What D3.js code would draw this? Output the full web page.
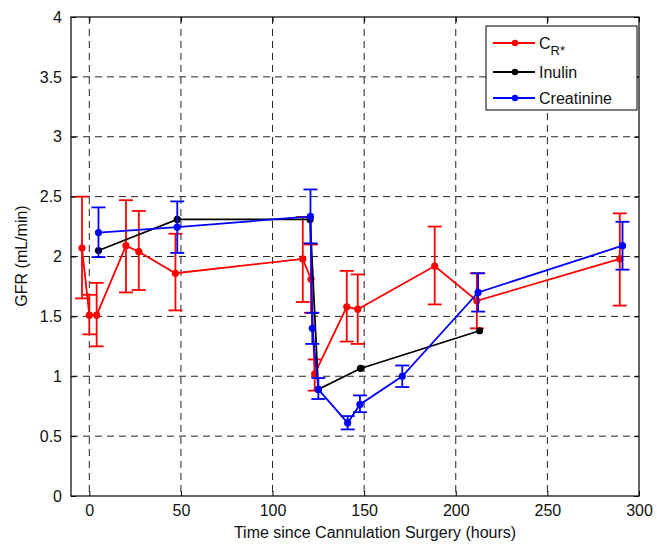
<!DOCTYPE html>
<html>
<head>
<meta charset="utf-8">
<script src="https://cdn.jsdelivr.net/npm/d3@7"></script>
<style>
  body { margin: 0; background: #fff; }
  svg { display: block; font-family: "Liberation Sans", Arial, sans-serif; }
</style>
</head>
<body>
<div id="chart"></div>
<script>
// values
const crTime  = [-4, 0, 4, 20, 27, 47, 116.5, 121, 123, 140.5, 146.5, 188.5, 211.5, 289.5];
const crValue = [2.07, 1.51, 1.51, 2.09, 2.04, 1.86, 1.98, 1.81, 1.02, 1.58, 1.56, 1.92, 1.63, 1.98];
const crLow   = [1.65, 1.35, 1.25, 1.70, 1.72, 1.55, 1.62, 1.53, 0.88, 1.29, 1.27, 1.60, 1.40, 1.59];
const crHigh  = [2.50, 1.68, 1.78, 2.47, 2.38, 2.19, 2.33, 2.10, 1.14, 1.88, 1.85, 2.25, 1.86, 2.36];

const inTime  = [5, 48, 120.5, 125, 148, 213];
const inValue = [2.05, 2.31, 2.31, 0.89, 1.065, 1.38];

const crnTime  = [5, 48, 120.7, 121.7, 125, 141, 147.7, 170.8, 212.2, 291];
const crnValue = [2.20, 2.245, 2.335, 1.40, 0.89, 0.61, 0.765, 1.00, 1.70, 2.09];
const crnLow   = [1.995, 2.03, 2.11, 1.27, 0.81, 0.556, 0.70, 0.91, 1.54, 1.89];
const crnHigh  = [2.41, 2.46, 2.56, 1.53, 0.985, 0.667, 0.84, 1.09, 1.86, 2.29];

const xTicks = [0, 50, 100, 150, 200, 250, 300];
const yTicks = [0, 0.5, 1, 1.5, 2, 2.5, 3, 3.5, 4];

const W = 657, H = 546;
const pLeft = 71, pRight = 639, pTop = 17, pBottom = 496;

const svg = d3.select('#chart').append('svg')
    .attr('width', W)
    .attr('height', H);

const x = d3.scaleLinear().domain([-10, 300]).range([pLeft, pRight]);
const y = d3.scaleLinear().domain([0, 4]).range([pBottom, pTop]);

// grid
svg.append('g').selectAll('line')
    .data(xTicks.filter(t => t > -10 && t < 300))
    .enter().append('line')
    .attr('x1', d => x(d)).attr('x2', d => x(d))
    .attr('y1', pTop).attr('y2', pBottom)
    .style('stroke', '#222').style('stroke-width', 1)
    .style('stroke-dasharray', '7,5');

svg.append('g').selectAll('line')
    .data(yTicks.filter(t => t > 0 && t < 4))
    .enter().append('line')
    .attr('x1', pLeft).attr('x2', pRight)
    .attr('y1', d => y(d)).attr('y2', d => y(d))
    .style('stroke', '#222').style('stroke-width', 1)
    .style('stroke-dasharray', '7,5');

// axes
const fmt = d => String(d);
const xAxis = svg.append('g')
    .attr('transform', `translate(0,${pBottom})`)
    .call(d3.axisBottom(x).tickValues(xTicks).tickFormat(fmt).tickSizeInner(-5).tickSizeOuter(0).tickPadding(9));
const xAxisTop = svg.append('g')
    .attr('transform', `translate(0,${pTop})`)
    .call(d3.axisTop(x).tickValues(xTicks).tickSizeInner(-5).tickSizeOuter(0).tickFormat(''));
const yAxis = svg.append('g')
    .attr('transform', `translate(${pLeft},0)`)
    .call(d3.axisLeft(y).tickValues(yTicks).tickFormat(fmt).tickSizeInner(-5).tickSizeOuter(0).tickPadding(9));
const yAxisRight = svg.append('g')
    .attr('transform', `translate(${pRight},0)`)
    .call(d3.axisRight(y).tickValues(yTicks).tickSizeInner(-5).tickSizeOuter(0).tickFormat(''));

[xAxis, xAxisTop, yAxis, yAxisRight].forEach(g => {
    g.select('.domain').remove();
    g.selectAll('line').style('stroke', '#000');
    g.selectAll('text').style('font-size', '16px').style('fill', '#111')
        .style('font-family', '"Liberation Sans", Arial, sans-serif');
});

svg.append('rect')
    .attr('x', pLeft).attr('y', pTop)
    .attr('width', pRight - pLeft).attr('height', pBottom - pTop)
    .style('fill', 'none').style('stroke', '#000').style('stroke-width', 1.2);

// axis labels
svg.append('text')
    .attr('x', 375).attr('y', 538)
    .attr('text-anchor', 'middle')
    .style('font-size', '16px').style('fill', '#111')
    .text('Time since Cannulation Surgery (hours)');

svg.append('text')
    .attr('transform', `translate(27,${256}) rotate(-90)`)
    .attr('text-anchor', 'middle')
    .style('font-size', '16px').style('fill', '#111')
    .text('GFR (mL/min)');

// series
function drawSeries(times, vals, lows, highs, color) {
    const pts = times.map((t, i) => ({ t: t, v: vals[i], lo: lows ? lows[i] : null, hi: highs ? highs[i] : null }));
    const g = svg.append('g');
    if (lows) {
        const eb = g.selectAll('.eb').data(pts).enter().append('g');
        eb.append('line')
            .attr('x1', d => x(d.t)).attr('x2', d => x(d.t))
            .attr('y1', d => y(d.lo)).attr('y2', d => y(d.hi));
        eb.append('line')
            .attr('x1', d => x(d.t) - 7).attr('x2', d => x(d.t) + 7)
            .attr('y1', d => y(d.lo)).attr('y2', d => y(d.lo));
        eb.append('line')
            .attr('x1', d => x(d.t) - 7).attr('x2', d => x(d.t) + 7)
            .attr('y1', d => y(d.hi)).attr('y2', d => y(d.hi));
        eb.selectAll('line').style('stroke', color).style('stroke-width', 1.8);
    }
    g.append('path')
        .datum(pts)
        .attr('d', d3.line().x(d => x(d.t)).y(d => y(d.v)))
        .style('fill', 'none').style('stroke', color).style('stroke-width', 1.8);
    g.selectAll('circle').data(pts).enter().append('circle')
        .attr('cx', d => x(d.t)).attr('cy', d => y(d.v)).attr('r', 3.6)
        .style('fill', color);
}

drawSeries(crTime, crValue, crLow, crHigh, '#ff0000');
drawSeries(inTime, inValue, null, null, '#000000');
drawSeries(crnTime, crnValue, crnLow, crnHigh, '#0000ff');

// legend
const lg = svg.append('g');
lg.append('rect')
    .attr('x', 486).attr('y', 26).attr('width', 151).attr('height', 84)
    .style('fill', '#fff').style('stroke', '#000').style('stroke-width', 1);

const legendNames = ['C', 'Inulin', 'Creatinine'];
const legendColors = ['#ff0000', '#000000', '#0000ff'];
const legendY = [43, 72, 98];
legendNames.forEach((name, i) => {
    lg.append('line')
        .attr('x1', 493).attr('x2', 535)
        .attr('y1', legendY[i]).attr('y2', legendY[i])
        .style('stroke', legendColors[i]).style('stroke-width', 1.8);
    lg.append('circle')
        .attr('cx', 515).attr('cy', legendY[i]).attr('r', 3.2)
        .style('fill', legendColors[i]);
    const t = lg.append('text')
        .attr('x', 539).attr('y', legendY[i] + 6)
        .style('font-size', '16px').style('fill', '#111');
    t.append('tspan').text(name);
    if (i === 0) {
        t.append('tspan').attr('dy', 6).style('font-size', '13px').text('R*');
    }
});
</script>
</body>
</html>
